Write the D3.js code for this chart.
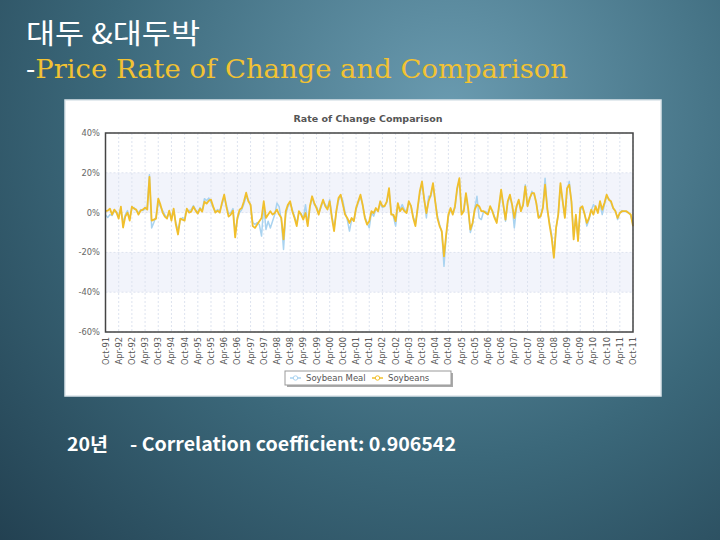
<!DOCTYPE html>
<html lang="en">
<head>
<meta charset="UTF-8">
<script src="https://d3js.org/d3.v7.min.js"></script>
<style>body{margin:0;background:#1e3a4a}</style>
</head>
<body>
<svg id="chart" width="720" height="540"></svg>
<script>
// x tick labels, one every 6 months (data is monthly, starts Oct-91)
var tickLabels = ['Oct-91','Apr-92','Oct-92','Apr-93','Oct-93','Apr-94','Oct-94','Apr-95','Oct-95','Apr-96',
  'Oct-96','Apr-97','Oct-97','Apr-98','Oct-98','Apr-99','Oct-99','Apr-00','Oct-00','Apr-01','Oct-01',
  'Apr-02','Oct-02','Apr-03','Oct-03','Apr-04','Oct-04','Apr-05','Oct-05','Apr-06','Oct-06','Apr-07',
  'Oct-07','Apr-08','Oct-08','Apr-09','Oct-09','Apr-10','Oct-10','Apr-11','Oct-11'];

var yTicks = [-60, -40, -20, 0, 20, 40];

// monthly rate of change, %
var soybeans = [
  0.7, 1, 2, -1, 1.5, 0, -3, 3, -7.5, -2, 0, -4,
  3, 2, 1.5, -1, 1, 1.5, 2.5, 1.5, 18, -4, -3.5, -3,
  7, 4, 0, -2, -3, 1, -4, 2, -6, -11, -3, -3.5,
  -4, 2, 0, 0.5, 3, 1, -0.5, 2, 0.5, 5.5, 4.5, 6,
  6.5, 3, 0, 1, 0, 5, 9, 3, -2, -1, 1, -12.5,
  -2.7, 1.5, 2.3, 5.7, 10, 5.7, 4, -6.8, -7.7, -6, -4.3, -2.7,
  5.7, -2.7, -1, 0.7, -1, -0.2, 1.5, -1, -2.7, -13.5, 0.7, 4,
  5.7, 0.7, -2.7, -6.8, 0.7, -1, -3.5, -0.2, -6.8, 3.2, 8.2, 4.8,
  2.3, -1, 3.2, 6.5, 3.2, 1.5, 5.7, -2.7, -9.3, 0.7, 7.3, 9,
  4, -1, -2.7, -5.2, -2.7, -4.3, 2.3, 5.7, 9, 4, -2.7, -6,
  -4.3, 0.7, -0.2, 2.3, 0.7, 5.7, 3.2, 3.2, 5.7, 12.3, -1, -1,
  -4.3, 4.8, 0.7, 2.3, 0.7, -0.2, 5.7, 3.2, -2.7, -6.8, 2.3, 10.7,
  15.7, 6.5, -0.2, 5.7, 9, 14.8, 5.7, -2.7, -6.8, -9.3, -22, -11,
  -1, 2.3, -1, 3.2, 12.3, 17.3, -1, 0.7, 9.8, 2.3, -8.5, -5.2,
  1.5, 4, 3.2, 0.7, 0.7, -0.2, -1, 3.2, 0.7, -2.7, -5.2, 3,
  11.5, 4, -3.5, 5.7, 9, 4, -2.7, 3.2, 6.5, 0.7, 4, 13.2,
  3.2, 7.3, 9.8, 9.8, 4.8, -2.7, -1.8, 2.3, 14, 2.3, -6, -12.7,
  -22.7, -7.7, -1, 14.8, 5.7, -2.7, 12.3, 14, 5.7, -13.5, -1, -14.3,
  2.3, 3.2, -1, -5.2, -2.7, 1.5, -1, 3.2, -0.2, 5.7, 1.5, 4.8,
  9, 6.5, 5.7, 2.3, 0.7, -2.7, -0.2, 0.7, 0.7, 0.7, -0.2, -1,
  -6.8
];

var soybeanMeal = [
  -1, -2.5, -1, -1.5, 1, 0.5, -2, 2, -5, -1, 1, -3,
  2, 2.5, 1, 0, 1.5, 1, 2, 3, 19, -7.7, -5, -2,
  5, 3, 1, -1, -2.5, 0, -3, 1.5, -5, -9, -4, -2.5,
  -3, 1.5, 1, 1.5, 3.5, 1.5, 0, 2.5, 1, 7, 6, 7.3,
  5, 2.5, 0.5, 1.5, 1, 4, 8, 4, -0.5, 0, 2, -10,
  -3.5, 0, 1.5, 4.5, 8, 6.5, 3.5, -5, -6, -5, -6, -11.8,
  4, -8.5, -4.3, -7.7, -4.3, -1, 4.8, 3, -4, -18.5, -1, 3,
  5, 1.5, -2, -5.5, 0, -0.5, -3, 4, -5.5, 2.5, 7.5, 4,
  3, 0, 2.5, 5.5, 4, 2.5, 6.5, -1.5, -8, 0, 6, 8.5,
  6, 0, -3.5, -9.3, -3.5, -3.5, 1.5, 5, 8, 3.5, -2, -5,
  -7.7, 0, -1.8, 1.5, 1, 4.5, 2.5, 3.5, 5, 11, 0, -2,
  -6.8, 3.5, 1.5, 4, 1.5, 0.5, 5, 3.5, -2, -5.5, 1.5, 9.5,
  14.5, 7, -2.7, 8.2, 8, 13.5, 6, -1.5, -6, -10, -27, -12,
  -2, 1.5, -0.5, 2.5, 11.5, 16.5, 0, 1.5, 9, 1.5, -10, -6,
  2, 8.2, -2.7, -3.5, 0.5, 0.5, -0.5, 2.5, 1, -2, -4.5, 2,
  10.5, 3.5, -4.3, 5, 8, 3.5, -7.7, 2.5, 6, 1.5, 3.5, 14,
  3.5, 6.5, 10.7, 9, 5, -2, -1, 3, 17.3, 1.5, -5, -11,
  -22, -8, -0.5, 13.5, 6, -2, 11.5, 15.7, 5, -12, -2, -13,
  1.5, 2.5, -0.5, -6.8, -3.5, 1, 4, 2.5, 0.5, 4.5, -1, 4,
  8, 7, 5, 2, 1, -3.5, 0, 1, 0.5, 0.5, 0, -1.5,
  -6
];

var seriesNames = ['Soybean Meal', 'Soybeans'];
var seriesColors = ['#a9d3f0', '#f1bf2c'];

var svg = d3.select('#chart');

// slide background
var defs = svg.append('defs');
var bg = defs.append('radialGradient').attr('id', 'bg')
  .attr('gradientUnits', 'userSpaceOnUse')
  .attr('cx', 450).attr('cy', 110).attr('r', 700);
bg.append('stop').attr('offset', 0).attr('stop-color', '#6a9bb0');
bg.append('stop').attr('offset', 0.5).attr('stop-color', '#3b687a');
bg.append('stop').attr('offset', 1).attr('stop-color', '#1c3646');
svg.append('rect').attr('width', 720).attr('height', 540).attr('fill', 'url(#bg)');

// headings
svg.append('text').attr('x', 26).attr('y', 44)
  .attr('font-family', 'Noto Sans CJK KR').attr('font-size', 28).attr('fill', '#fff')
  .attr('textLength', 174).attr('lengthAdjust', 'spacingAndGlyphs')
  .text('대두 &대두박');
var t2 = svg.append('text').attr('x', 26).attr('y', 78)
  .attr('font-family', 'DejaVu Serif').attr('font-size', 26)
  .attr('textLength', 542).attr('lengthAdjust', 'spacingAndGlyphs');
t2.append('tspan').attr('fill', '#fff').text('-');
t2.append('tspan').attr('fill', '#f2c232').text('Price Rate of Change and Comparison');

// chart panel
svg.append('rect').attr('x', 65).attr('y', 100).attr('width', 596).attr('height', 296)
  .attr('fill', '#fff').attr('stroke', '#dbe5ea').attr('stroke-width', 1.5);

svg.append('text').attr('x', 368).attr('y', 122).attr('text-anchor', 'middle')
  .attr('font-family', 'DejaVu Sans').attr('font-weight', 'bold').attr('font-size', 9.5)
  .attr('fill', '#555').text('Rate of Change Comparison');

var x = d3.scaleLinear().domain([0, soybeans.length - 1]).range([105.5, 633]);
var y = d3.scaleLinear().domain([-60, 40]).range([332, 133]);

// alternating bands
[[0, 20], [-40, -20]].forEach(function (b) {
  svg.append('rect').attr('x', x(0)).attr('width', x(240) - x(0))
    .attr('y', y(b[1])).attr('height', y(b[0]) - y(b[1])).attr('fill', '#f2f4fb');
});

// grid
svg.append('g').selectAll('line').data(yTicks).enter().append('line')
  .attr('x1', x(0)).attr('x2', x(240)).attr('y1', d => y(d)).attr('y2', d => y(d))
  .attr('stroke', '#dde3ef').attr('stroke-dasharray', '2,2');
svg.append('g').selectAll('line').data(tickLabels).enter().append('line')
  .attr('x1', (d, i) => x(i * 6)).attr('x2', (d, i) => x(i * 6))
  .attr('y1', y(40)).attr('y2', y(-60))
  .attr('stroke', '#dde3ef').attr('stroke-dasharray', '2,2');

// y labels
svg.append('g').selectAll('text').data(yTicks).enter().append('text')
  .attr('x', 100).attr('y', d => y(d) + 3).attr('text-anchor', 'end')
  .attr('font-family', 'DejaVu Sans').attr('font-size', 8.3).attr('fill', '#666')
  .text(d => d + '%');

// x labels
svg.append('g').selectAll('text').data(tickLabels).enter().append('text')
  .attr('transform', (d, i) => 'translate(' + (x(i * 6) + 3) + ',337) rotate(-90)')
  .attr('text-anchor', 'end')
  .attr('font-family', 'DejaVu Sans').attr('font-size', 8.3).attr('fill', '#5a5a5a')
  .text(d => d);

// lines
var line = d3.line().x((d, i) => x(i)).y(d => y(d));
[soybeanMeal, soybeans].forEach(function (s, k) {
  svg.append('path').datum(s).attr('d', line).attr('fill', 'none')
    .attr('stroke', seriesColors[k]).attr('stroke-width', k ? 1.8 : 1.5)
    .attr('stroke-linejoin', 'round');
});

// plot frame
svg.append('rect').attr('x', x(0)).attr('y', y(40)).attr('width', x(240) - x(0))
  .attr('height', y(-60) - y(40)).attr('fill', 'none').attr('stroke', '#444').attr('stroke-width', 1.5);

// legend
svg.append('rect').attr('x', 287).attr('y', 373).attr('width', 166).attr('height', 14).attr('fill', '#aaa');
svg.append('rect').attr('x', 285).attr('y', 371).attr('width', 166).attr('height', 14)
  .attr('fill', '#fff').attr('stroke', '#999');
var lx = [290, 372];
seriesNames.forEach(function (n, k) {
  svg.append('line').attr('x1', lx[k]).attr('x2', lx[k] + 11).attr('y1', 378).attr('y2', 378)
    .attr('stroke', seriesColors[k]).attr('stroke-width', 1.5);
  svg.append('circle').attr('cx', lx[k] + 5.5).attr('cy', 378).attr('r', 2.2)
    .attr('fill', '#fff').attr('stroke', seriesColors[k]);
  svg.append('text').attr('x', lx[k] + 16).attr('y', 381)
    .attr('font-family', 'DejaVu Sans').attr('font-size', 8.5).attr('fill', '#555').text(n);
});

// footnote
svg.append('text').attr('x', 67).attr('y', 451)
  .attr('font-family', 'Noto Sans CJK KR').attr('font-weight', 'bold').attr('font-size', 18)
  .attr('textLength', 41).attr('lengthAdjust', 'spacingAndGlyphs')
  .attr('fill', '#fff').text('20년');
svg.append('text').attr('x', 130).attr('y', 451)
  .attr('font-family', 'Noto Sans CJK KR').attr('font-weight', 'bold').attr('font-size', 18.5)
  .attr('textLength', 326).attr('lengthAdjust', 'spacingAndGlyphs')
  .attr('fill', '#fff').text('- Correlation coefficient: 0.906542');
</script>
</body>
</html>
